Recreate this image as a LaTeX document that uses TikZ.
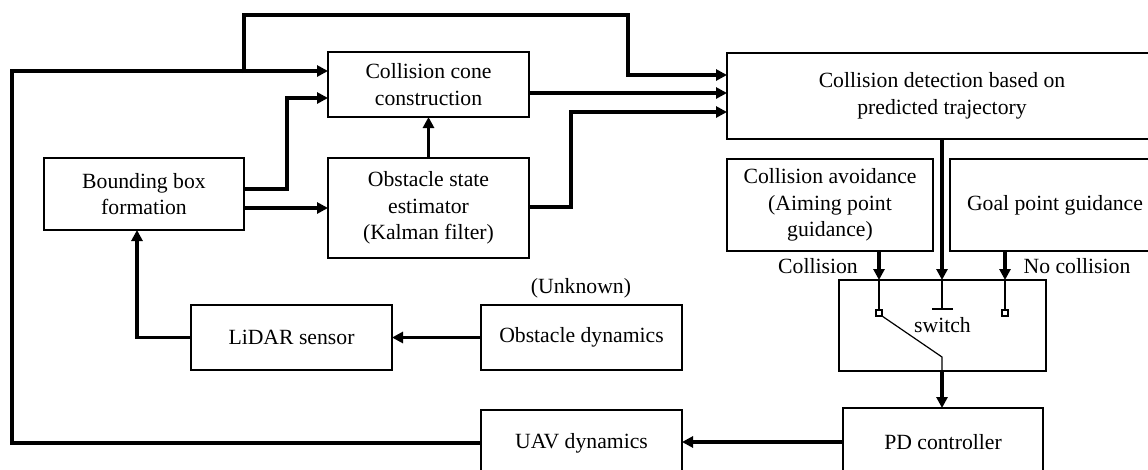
\documentclass[tikz,border=0pt]{standalone}
\usepackage{fontspec}
\setmainfont{Liberation Serif}
\usetikzlibrary{arrows.meta}
\newcommand\boxfnt{\fontsize{21.7}{26.5}\selectfont}
\begin{document}
\begin{tikzpicture}[x=1pt,y=-1pt,
  box/.style={draw,line width=1.8pt,inner sep=0pt,outer sep=0pt,align=center,font=\boxfnt},
  lbl/.style={inner sep=0pt,font=\boxfnt},
  arr/.style={line width=3.4pt,-{Triangle[length=11pt,width=11pt]}},
  thinln/.style={line width=1.2pt},
  sq/.style={draw,line width=1.1pt,minimum size=6pt,inner sep=0pt,outer sep=0pt}]
\useasboundingbox (0,0) rectangle (1148,469);
\clip (0,0) rectangle (1148,469);

% boxes
\node[box,minimum width=201pt,minimum height=65pt] (cone) at (428.5,84.5) {Collision cone\\construction};
\node[box,minimum width=200pt,minimum height=72pt] (bbox) at (144,194) {Bounding box\\formation};
\node[box,minimum width=201pt,minimum height=100pt] (est) at (428.5,208) {Obstacle state\\estimator\\(Kalman filter)};
\node[box,minimum width=430pt,minimum height=86pt] (det) at (942,96) {Collision detection based on\\predicted trajectory};
\node[box,minimum width=206pt,minimum height=92pt] (avoid) at (830,205) {Collision avoidance\\(Aiming point\\guidance)};
\node[box,minimum width=210pt,minimum height=92pt] (goal) at (1055,205) {Goal point guidance};
\node[box,minimum width=207pt,minimum height=91pt] (sw) at (942.5,325.5) {switch};
\node[box,minimum width=200pt,minimum height=68pt] (pd) at (943,442) {PD controller};
\node[box,minimum width=201pt,minimum height=66pt] (uav) at (581.5,443) {UAV dynamics};
\node[box,minimum width=201pt,minimum height=65pt] (lidar) at (291.5,337.5) {LiDAR sensor};
\node[box,minimum width=201pt,minimum height=65pt] (obs) at (581.5,337.5) {Obstacle dynamics};

% labels
\node[lbl] (unk) at (581,288) {(Unknown)};
\node[lbl] (lcol) at (818,266) {Collision};
\node[lbl] (lnocol) at (1077,266) {No collision};

% connectors
\draw[arr] (uav.west) -| (12,71) -- (cone.west |- 0,71);
\draw[arr] (244,73) -- (244,15) -| (628,75) -- (det.west |- 0,75);
\draw[arr] (bbox.east |- 0,189) -| (287,98) -- (cone.west |- 0,98);
\draw[arr] (bbox.east |- 0,208) -- (est.west |- 0,208);
\draw[arr] (est.north) -- (cone.south);
\draw[arr] (cone.east |- 0,93) -- (det.west |- 0,93);
\draw[arr] (est.east |- 0,207) -| (571,112) -- (det.west |- 0,112);
\draw[arr] (det.south -| 942,0) -- (sw.north -| 942,0);
\draw[arr] (avoid.south -| 879,0) -- (sw.north -| 879,0);
\draw[arr] (goal.south -| 1005,0) -- (sw.north -| 1005,0);
\draw[arr] (sw.south -| 942,0) -- (pd.north -| 942,0);
\draw[arr] (pd.west) -- (uav.east |- pd.west);
\draw[arr] (obs.west) -- (lidar.east);
\draw[arr] (lidar.west) -| (bbox.south -| 137,0);

% switch internals
\node[sq] (sqa) at (879,313) {};
\node[sq] (sqb) at (1005,313) {};
\draw[thinln] (sw.north -| sqa) -- (sqa.north);
\draw[thinln] (sw.north -| sqb) -- (sqb.north);
\draw[thinln] (sw.north -| 942,0) -- (942,309);
\draw[thinln] (932,309) -- (953,309);
\draw[thinln] (sqa.south east) -- (942,357) -- (sw.south -| 942,0);
\end{tikzpicture}
\end{document}
